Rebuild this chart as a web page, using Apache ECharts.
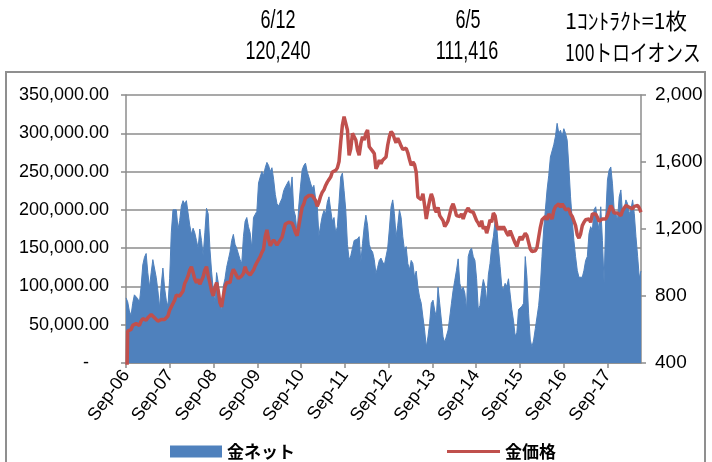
<!DOCTYPE html>
<html>
<head>
<meta charset="utf-8">
<script src="https://cdn.jsdelivr.net/npm/echarts@6/dist/echarts.min.js"></script>
<style>
  html, body { margin: 0; padding: 0; background: #fff; }
  #chart { width: 712px; height: 462px; }
</style>
</head>
<body>
<div id="chart"></div>
<script>
// COMEX gold: non-commercial net position (contracts) and gold price (USD/oz), bi-weekly
const firstDate = '2006-09-05';
const stepDays = 14;

const net = [
  85000, 80000, 68000, 62000, 78000, 89000, 87000, 84000, 79000, 100000,
  128000, 138000, 143000, 118000, 99000, 118000, 135000, 137000, 112000, 95000,
  72000, 102000, 124000, 98000, 82000, 74000, 110000, 170000, 200000, 202000,
  200000, 175000, 186000, 205000, 212000, 208000, 212000, 196000, 180000, 168000,
  176000, 170000, 160000, 150000, 175000, 160000, 140000, 170000, 202000, 195000,
  150000, 120000, 96000, 80000, 118000, 105000, 80000, 68000, 100000, 110000,
  125000, 135000, 145000, 160000, 168000, 155000, 150000, 152000, 135000, 130000,
  165000, 185000, 190000, 178000, 170000, 150000, 190000, 192000, 198000, 235000,
  243000, 250000, 245000, 255000, 262000, 258000, 250000, 255000, 240000, 220000,
  208000, 205000, 206000, 215000, 225000, 230000, 234000, 238000, 225000, 243000,
  200000, 192000, 170000, 205000, 230000, 252000, 258000, 261000, 250000, 243000,
  235000, 228000, 232000, 215000, 205000, 166000, 180000, 192000, 199000, 195000,
  210000, 217000, 200000, 185000, 190000, 170000, 178000, 210000, 243000, 248000,
  225000, 200000, 155000, 135000, 140000, 150000, 160000, 158000, 162000, 165000,
  132000, 156000, 178000, 193000, 180000, 155000, 148000, 145000, 135000, 117000,
  125000, 134000, 137000, 132000, 128000, 130000, 150000, 175000, 204000, 213000,
  195000, 165000, 180000, 200000, 190000, 165000, 147000, 152000, 130000, 122000,
  134000, 130000, 112000, 120000, 99000, 86000, 78000, 60000, 43000, 21000,
  34000, 52000, 78000, 82000, 69000, 60000, 99000, 78000, 56000, 34000,
  27000, 29000, 43000, 60000, 78000, 95000, 108000, 121000, 136000, 104000,
  95000, 99000, 91000, 69000, 139000, 147000, 150000, 139000, 134000, 110000,
  70000, 75000, 95000, 109000, 100000, 80000, 115000, 130000, 152000, 165000,
  185000, 178000, 150000, 126000, 100000, 96000, 104000, 100000, 110000, 90000,
  70000, 55000, 35000, 40000, 70000, 72000, 74000, 78000, 139000, 112000,
  65000, 30000, 21000, 30000, 45000, 60000, 75000, 100000, 139000, 175000,
  200000, 226000, 245000, 269000, 268000, 285000, 296000, 313000, 300000, 304000,
  296000, 306000, 300000, 291000, 256000, 217000, 187000, 160000, 139000, 121000,
  112000, 110000, 112000, 121000, 134000, 139000, 169000, 178000, 173000, 200000,
  204000, 187000, 173000, 204000, 160000, 104000, 191000, 239000, 252000, 256000,
  234000, 200000, 195000, 187000, 217000, 226000, 195000, 200000, 213000, 208000,
  195000, 200000, 213000, 195000, 165000, 139000, 111000, 120240
];

const price = [
  0, 590, 585, 600, 625, 635, 635, 630, 625, 650,
  665, 660, 655, 670, 675, 690, 685, 670, 660, 650,
  645, 660, 665, 660, 665, 680, 715, 735, 755, 775,
  805, 810, 800, 805, 830, 875, 895, 920, 955, 975,
  940, 900, 880, 900, 870, 880, 915, 955, 975, 920,
  880, 830, 800, 850, 880, 830, 760, 735, 800, 855,
  880, 885, 880, 930, 960, 940, 920, 905, 895, 920,
  935, 975, 945, 935, 925, 940, 955, 980, 1000, 1010,
  1035, 1060, 1080, 1155, 1195, 1140, 1100, 1120, 1135, 1125,
  1105, 1120, 1135, 1150, 1190, 1230, 1235, 1240, 1245, 1235,
  1210, 1180, 1160, 1215, 1275, 1330, 1350, 1385, 1395, 1400,
  1395, 1400, 1390, 1370, 1335, 1360, 1395, 1420, 1434, 1460,
  1480, 1495, 1510, 1540, 1530, 1550, 1565, 1603, 1720, 1821,
  1871, 1860, 1791, 1640, 1680, 1771, 1780, 1731, 1672, 1640,
  1711, 1751, 1731, 1771, 1791, 1691, 1680, 1665, 1651, 1560,
  1580, 1611, 1590, 1611, 1600, 1630, 1700, 1750, 1782, 1770,
  1740, 1715, 1742, 1720, 1695, 1675, 1680, 1682, 1655, 1615,
  1580, 1600, 1585, 1540, 1390, 1400, 1375, 1410, 1340, 1260,
  1320, 1370, 1410, 1380, 1320, 1300, 1330, 1280, 1270, 1250,
  1215, 1230, 1250, 1290, 1330, 1350, 1320, 1280, 1275, 1275,
  1290, 1260, 1290, 1310, 1325, 1305, 1295, 1300, 1290, 1250,
  1235, 1215, 1250, 1200, 1215, 1175, 1210, 1255, 1240, 1295,
  1280, 1220, 1195, 1215, 1195, 1215, 1195, 1175, 1160, 1190,
  1180, 1140, 1115, 1096, 1130, 1155, 1135, 1155, 1175, 1160,
  1120, 1080, 1066, 1056, 1070, 1090, 1150, 1210, 1255, 1255,
  1275, 1255, 1290, 1275, 1260, 1310, 1334, 1334, 1350, 1330,
  1350, 1335, 1315, 1325, 1320, 1290, 1275, 1280, 1220, 1165,
  1145, 1170, 1220, 1240, 1255, 1255, 1260, 1240, 1290, 1280,
  1290, 1270, 1245, 1240, 1260, 1270, 1260, 1280, 1310, 1340,
  1320, 1295, 1290, 1295, 1285, 1280, 1310, 1325, 1340, 1340,
  1330, 1325, 1320, 1335, 1345, 1340, 1325, 1300
];

// header notes
const latestLabel = '6/12';
const latestValue = '120,240';
const prevLabel = '6/5';
const prevValue = '111,416';
const unitLine1 = '1ｺﾝﾄﾗｸﾄ=1枚';
const unitLine2 = '100トロイオンス';

const seriesNames = ['金ネット', '金価格'];

// x positions: days elapsed since the first report date
const dayMs = 86400000;
const start = Date.parse(firstDate + 'T00:00:00Z');
const dates = net.map((_, i) => new Date(start + i * stepDays * dayMs).toISOString().slice(0, 10));
const dayOffset = d => Math.round((Date.parse(d + 'T00:00:00Z') - start) / dayMs);
const lastDay = dayOffset(dates[dates.length - 1]);
const yearDays = 365.25;

const netData = net.map((v, i) => [dayOffset(dates[i]), v]);
const priceData = price.map((v, i) => [dayOffset(dates[i]), v]);

const BLUE = '#4F81BD';
const RED = '#C0504D';
const GRID = '#8c8c8c';
const LATIN = "'Liberation Sans', Arial, sans-serif";
const CJK = "'Noto Sans CJK JP', 'Liberation Sans', sans-serif";

function fmtThousands(v, decimals) {
  const s = v.toFixed(decimals);
  const parts = s.split('.');
  parts[0] = parts[0].replace(/\B(?=(\d{3})+(?!\d))/g, ',');
  return parts.join('.');
}

function headerText(x, y, text, font, align, sx) {
  return {
    type: 'text', x: x, y: y, scaleX: sx, silent: true,
    style: { text: text, font: font, fill: '#000', textAlign: align, textVerticalAlign: 'middle' }
  };
}

const chart = echarts.init(document.getElementById('chart'));
chart.setOption({
  animation: false,
  backgroundColor: '#fff',
  grid: { left: 126, right: 71, top: 95, bottom: 99, containLabel: false },
  legend: [
    {
      data: [{ name: seriesNames[0], icon: 'rect' }],
      left: 170, top: 443, padding: 0,
      itemWidth: 52, itemHeight: 12, itemGap: 6,
      textStyle: { fontFamily: CJK, fontSize: 17, fontWeight: 'bold', color: '#000' },
      selectedMode: false
    },
    {
      data: [{ name: seriesNames[1], icon: 'rect' }],
      left: 447, top: 443, padding: 0,
      itemWidth: 53, itemHeight: 3, itemGap: 6,
      textStyle: { fontFamily: CJK, fontSize: 17, fontWeight: 'bold', color: '#000' },
      selectedMode: false
    }
  ],
  xAxis: {
    type: 'value',
    min: 0,
    max: lastDay,
    interval: yearDays,
    axisLine: { show: true, lineStyle: { color: GRID, width: 1.5 } },
    axisTick: { show: true, length: 5, lineStyle: { color: GRID, width: 1.5 } },
    splitLine: { show: false },
    axisLabel: {
      rotate: 54,
      margin: 9,
      showMaxLabel: false,
      fontFamily: LATIN, fontSize: 18, color: '#000',
      formatter: v => {
        if (v > lastDay - 100) return '';
        const yy = 6 + Math.round(v / yearDays);
        return 'Sep-' + String(yy).padStart(2, '0');
      }
    }
  },
  yAxis: [
    {
      type: 'value',
      min: 0, max: 350000, interval: 50000,
      axisLine: { show: true, lineStyle: { color: GRID, width: 1.5 } },
      axisTick: { show: true, length: 5, lineStyle: { color: GRID, width: 1.5 } },
      splitLine: { show: true, lineStyle: { color: GRID, width: 1.5 } },
      axisLabel: {
        margin: 17,
        fontFamily: LATIN, fontSize: 18, color: '#000',
        formatter: v => v === 0 ? '-    ' : fmtThousands(v, 2)
      }
    },
    {
      type: 'value',
      min: 400, max: 2000, interval: 400,
      position: 'right',
      axisLine: { show: true, lineStyle: { color: GRID, width: 1.5 } },
      axisTick: { show: true, length: 5, lineStyle: { color: GRID, width: 1.5 } },
      splitLine: { show: false },
      axisLabel: {
        margin: 14,
        fontFamily: LATIN, fontSize: 19, color: '#000',
        formatter: v => fmtThousands(v, 0)
      }
    }
  ],
  series: [
    {
      name: seriesNames[0],
      type: 'line',
      yAxisIndex: 0,
      data: netData,
      showSymbol: false,
      symbol: 'none',
      itemStyle: { color: BLUE },
      lineStyle: { color: BLUE, width: 1 },
      areaStyle: { color: BLUE, opacity: 1 },
      z: 1
    },
    {
      name: seriesNames[1],
      type: 'line',
      yAxisIndex: 1,
      data: priceData,
      showSymbol: false,
      symbol: 'none',
      clip: true,
      itemStyle: { color: RED },
      lineStyle: { color: RED, width: 3.5 },
      z: 3
    }
  ],
  graphic: [
    {
      type: 'rect', z: -10, silent: true,
      shape: { x: 6, y: 72, width: 699, height: 420 },
      style: { fill: 'none', stroke: '#8f8f8f', lineWidth: 2 }
    },
    headerText(278, 21, latestLabel, '25px ' + LATIN, 'center', 0.72),
    headerText(278, 52, latestValue, '25px ' + LATIN, 'center', 0.72),
    headerText(468, 21, prevLabel, '25px ' + LATIN, 'center', 0.72),
    headerText(467, 52, prevValue, '25px ' + LATIN, 'center', 0.72),
    headerText(565, 21, unitLine1, '22px ' + CJK, 'left', 0.98),
    headerText(565, 52, unitLine2, '23px ' + CJK, 'left', 0.77)
  ]
});
</script>
</body>
</html>
